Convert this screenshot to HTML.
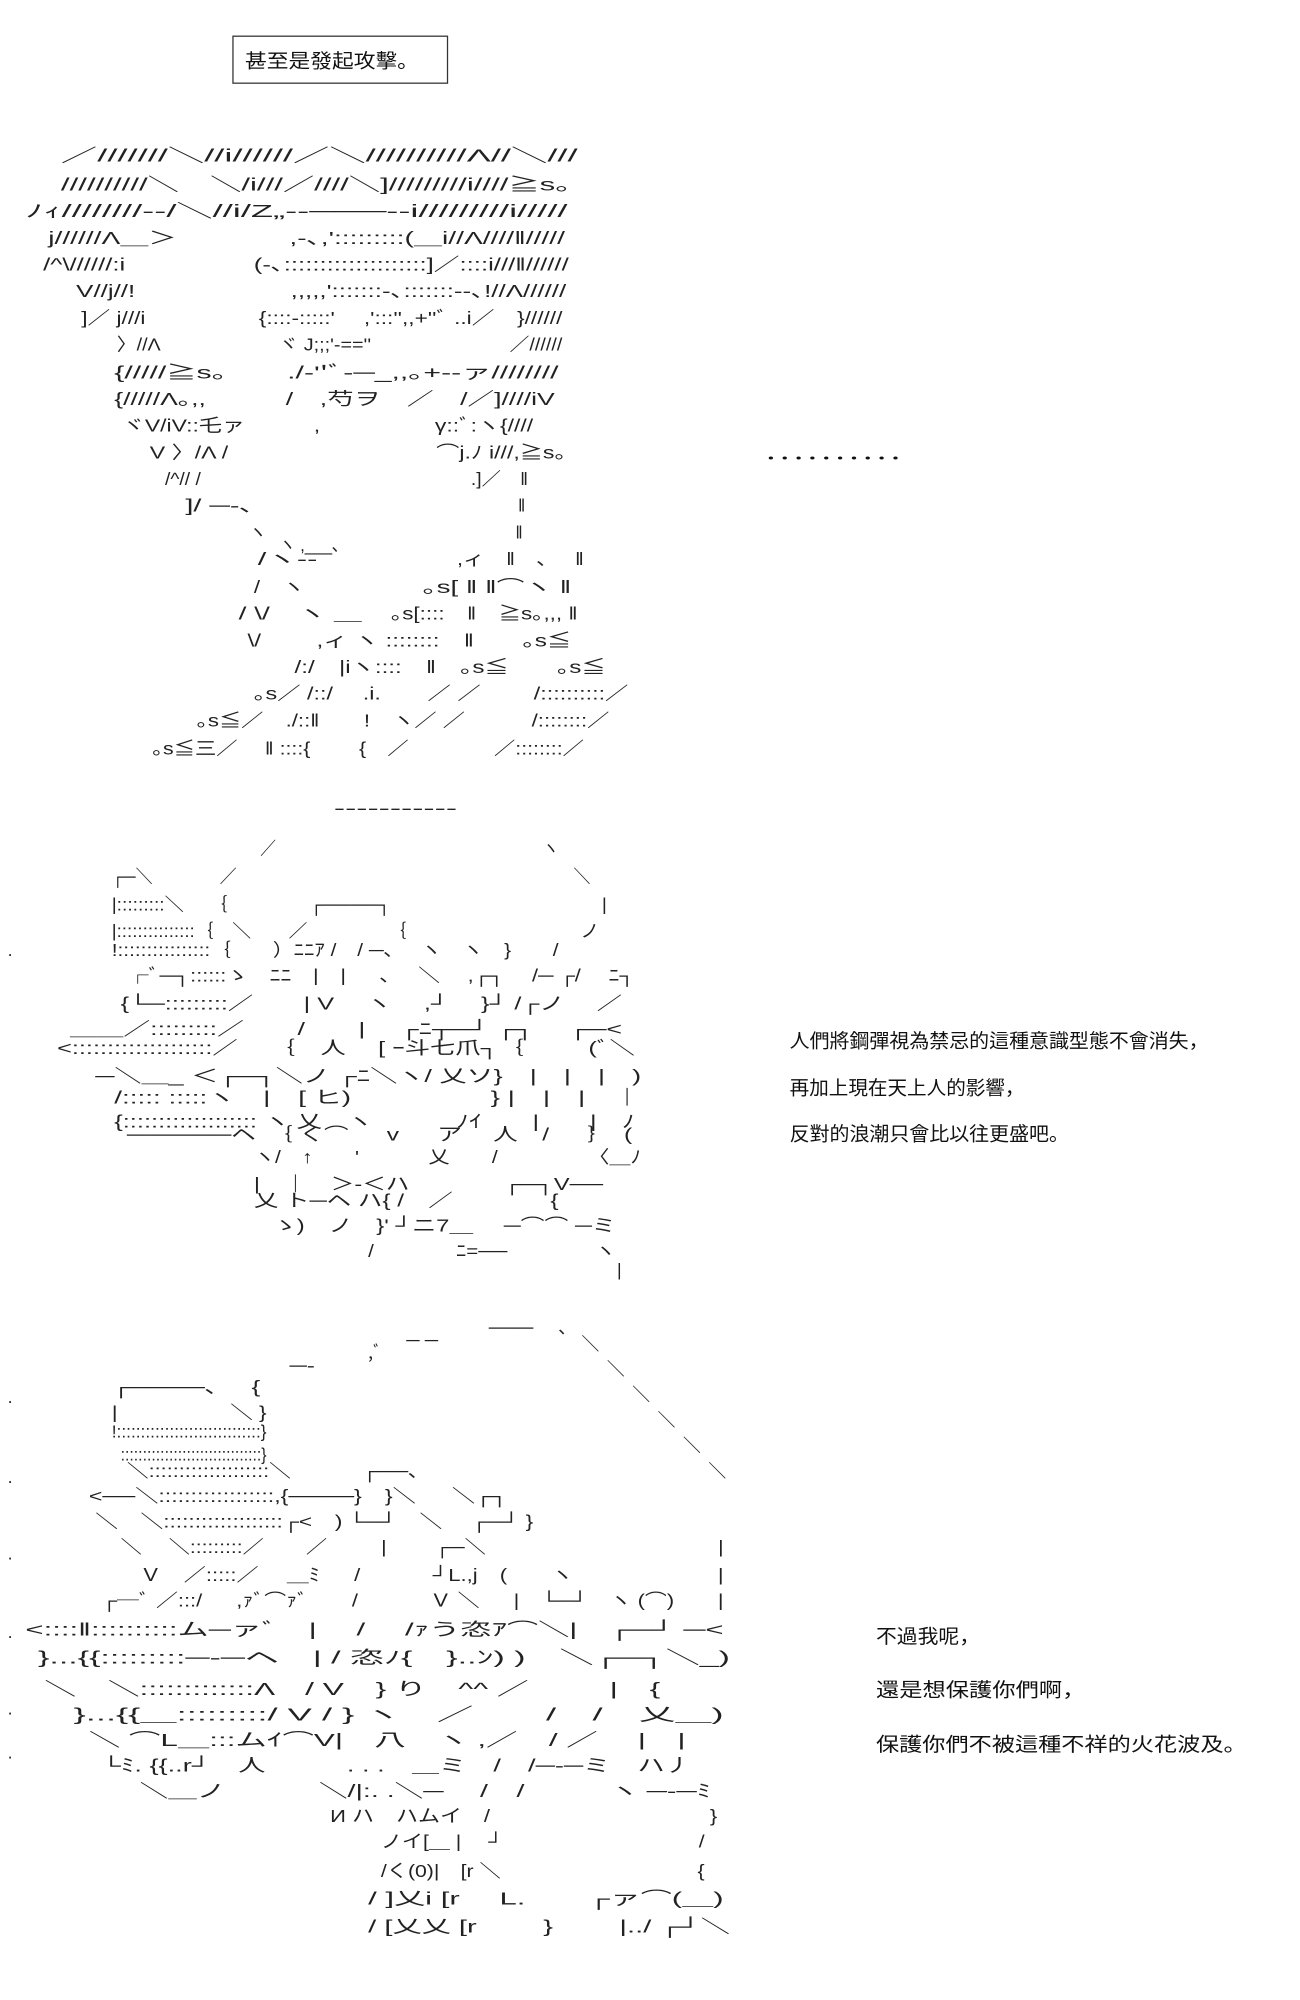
<!DOCTYPE html>
<html><head><meta charset="utf-8">
<style>
html,body{margin:0;padding:0;background:#fff;width:1300px;height:2000px;overflow:hidden}
svg{display:block}
text{font-family:"Liberation Sans","Noto Sans CJK JP",sans-serif;fill:#222;white-space:pre}
.a{font-size:14px}
.t{font-size:15px;fill:#111}
</style></head><body>
<svg width="1300" height="2000" viewBox="0 0 1024 1575" preserveAspectRatio="none" xmlns="http://www.w3.org/2000/svg">
<rect x="0" y="0" width="1024" height="1575" fill="#fff"/>
<!-- title box -->
<rect x="183.5" y="28.5" width="169" height="37" fill="none" stroke="#333" stroke-width="1"/>
<text class="t" x="193" y="53" textLength="137" lengthAdjust="spacingAndGlyphs">甚至是發起攻擊。</text>

<g class="a">
<text x="48" y="127" textLength="407" lengthAdjust="spacingAndGlyphs">／///////＼//i//////／＼//////////Λ//＼///</text>
<text x="48" y="150" textLength="414" lengthAdjust="spacingAndGlyphs">//////////＼　＼/i///／////＼]/////////i////≧s。</text>
<text x="20" y="171" textLength="427" lengthAdjust="spacingAndGlyphs">ﾉｨ////////--/＼//i/Z„--───--i/////////i/////</text>
<text x="38" y="192" textLength="407" lengthAdjust="spacingAndGlyphs">j//////Λ＿＞　　　　,-､,':::::::::(＿i//Λ////‖/////</text>
<text x="34" y="213" textLength="414" lengthAdjust="spacingAndGlyphs">/^\//////:i　　　　　(-､::::::::::::::::::::]／::::i///‖//////</text>
<text x="60" y="234" textLength="386" lengthAdjust="spacingAndGlyphs">V//j//!　　　　　　,,,,,':::::::-､:::::::--､!//Λ//////</text>
<text x="64" y="255" textLength="379" lengthAdjust="spacingAndGlyphs">]／ j///i　　　　　{::::-:::::'　 ,':::'',,+''ﾞ ..i／　}//////</text>
<text x="92" y="276" textLength="351" lengthAdjust="spacingAndGlyphs">〉//Λ　　　　　　ヾ J;;;'-==''　　　　　　　／//////</text>
<text x="90" y="298" textLength="350" lengthAdjust="spacingAndGlyphs">{/////≧s。　　./-''ﾞ-─_,,｡+--ァ////////</text>
<text x="90" y="319" textLength="347" lengthAdjust="spacingAndGlyphs">{/////Λ｡,,　　　/　,芍ヲ　／　/／]////iV</text>
<text x="96" y="340" textLength="324" lengthAdjust="spacingAndGlyphs">ヾV/iV::乇ァ　　　,　　　　　γ::ﾞ:ヽ{////</text>
<text x="118" y="361" textLength="337" lengthAdjust="spacingAndGlyphs">V 〉/Λ /　　　　　　　　　⌒j.ﾉ i///,≧s。</text>
<text x="130" y="382" textLength="286" lengthAdjust="spacingAndGlyphs">/^// /　　　　　　　　　　　　　　.]／　‖</text>
<text x="146" y="403" textLength="54" lengthAdjust="spacingAndGlyphs">]/ ─-､</text>
<text x="408" y="403">‖</text>
<text x="196" y="424">ヽ</text>
<text x="406" y="424">‖</text>
<text x="220" y="434" textLength="48" lengthAdjust="spacingAndGlyphs">ヽ ,___､</text>
<text x="203" y="445" textLength="47" lengthAdjust="spacingAndGlyphs">/ヽ--</text>
<text x="360" y="445" textLength="100" lengthAdjust="spacingAndGlyphs">,ィ　‖　､　 ‖</text>
<text x="200" y="467" textLength="40" lengthAdjust="spacingAndGlyphs">/　ヽ</text>
<text x="333" y="467" textLength="117" lengthAdjust="spacingAndGlyphs">｡s[ ‖ ‖⌒ヽ ‖</text>
<text x="188" y="488" textLength="97" lengthAdjust="spacingAndGlyphs">/ \/　ヽ ＿</text>
<text x="308" y="488" textLength="147" lengthAdjust="spacingAndGlyphs">｡s[::::　‖　≧s｡,,, ‖</text>
<text x="195" y="509" textLength="255" lengthAdjust="spacingAndGlyphs">\/　　 ,ィ ヽ ::::::::　‖　　｡s≦</text>
<text x="232" y="530" textLength="245" lengthAdjust="spacingAndGlyphs">/:/　|iヽ::::　‖　｡s≦　　｡s≦</text>
<text x="200" y="551" textLength="295" lengthAdjust="spacingAndGlyphs">｡s／ /::/　 .i.　　／ ／　　 /::::::::::／</text>
<text x="155" y="572" textLength="325" lengthAdjust="spacingAndGlyphs">｡s≦／　./::‖　　!　ヽ／ ／　　　/::::::::／</text>
<text x="120" y="594" textLength="340" lengthAdjust="spacingAndGlyphs">｡s≦三／　 ‖ ::::{　　 {　／　　　　／::::::::／</text>
</g>

<text class="t" x="602" y="362" textLength="120" lengthAdjust="spacingAndGlyphs">．．．．．．．．．．</text>

<g class="a">
<text x="263" y="641" textLength="97" lengthAdjust="spacingAndGlyphs">-----------</text>
<text x="205" y="673" textLength="235" lengthAdjust="spacingAndGlyphs">／　　　　　　　　　　　　　　　　　ヽ</text>
<text x="88" y="695" textLength="377" lengthAdjust="spacingAndGlyphs">┌─＼　　　　／　　　　　　　　　　　　　　　　　　　　＼</text>
<text x="88" y="717" textLength="390" lengthAdjust="spacingAndGlyphs">|:::::::::＼　 ｛　　　　 ┌────┐　　　　　　　　　　　|</text>
<text x="88" y="738" textLength="384" lengthAdjust="spacingAndGlyphs">|:::::::::::::::｛　＼　　／　　　　 ｛　　　　　　　　　 ノ</text>
<text x="88" y="753" textLength="352" lengthAdjust="spacingAndGlyphs">!::::::::::::::::｛　　）ﾆﾆｱ /　/ ─､ 　ヽ　ヽ　}　　/</text>
<text x="100" y="773" textLength="400" lengthAdjust="spacingAndGlyphs">┌ﾞ─┐::::::ゝ　ﾆﾆ　|　| 　 ､ 　＼　 ,┌┐　 /─ ┌/ 　ﾆ┐</text>
<text x="95" y="795" textLength="395" lengthAdjust="spacingAndGlyphs">{└─:::::::::／　　| V　 ヽ　 ,┘ 　}┘ /┌ノ　 ／</text>
<text x="55" y="815" textLength="435" lengthAdjust="spacingAndGlyphs">＿＿／:::::::::／　　/　　|　 ┌ﾆ┬─┘ ┌┐　 ┌─&lt;</text>
<text x="45" y="830" textLength="455" lengthAdjust="spacingAndGlyphs">&lt;::::::::::::::::::::／　 ｛　人　 [ ｰ斗七爪┐｛ 　　 (ﾞ＼</text>
<text x="75" y="852" textLength="430" lengthAdjust="spacingAndGlyphs">─＼＿_ ＜┌─┐＼ノ ┌ﾆ＼ヽ/ 乂ソ}　|　|　|　)</text>
<text x="90" y="869" textLength="415" lengthAdjust="spacingAndGlyphs">/::::: :::::ヽ　|　[ ヒ)　　　　　} |　|　|　｜</text>
<text x="90" y="888" textLength="410" lengthAdjust="spacingAndGlyphs">{::::::::::::::::::: ヽ 乂　ヽ　　　 ﾉｲ　　|　　|　ﾉ</text>
<text x="100" y="898" textLength="398" lengthAdjust="spacingAndGlyphs">──────ヘ　｛ く⌒ 　 v 　 ア 　人　/ 　 ｝　(</text>
<text x="200" y="916" textLength="305" lengthAdjust="spacingAndGlyphs">ヽ/　↑　　'　　　 乂　　/　　　　 〈＿ﾉ</text>
<text x="200" y="937" textLength="275" lengthAdjust="spacingAndGlyphs">|　｜　＞-＜ハ　　　　┌─┐V──</text>
<text x="200" y="950" textLength="240" lengthAdjust="spacingAndGlyphs">乂 ト─ヘ ハ{ /　／　　　　{</text>
<text x="215" y="970" textLength="270" lengthAdjust="spacingAndGlyphs">ゝ)　ノ　}' ┘ニ7＿ 　─⌒⌒ ─ミ</text>
<text x="290" y="990" textLength="195" lengthAdjust="spacingAndGlyphs">/　　　　ﾆ=── 　　　　ヽ</text>
<text x="486" y="1005">|</text>
<text x="6" y="753">.</text>
</g>

<text class="t" x="622" y="825" textLength="330" lengthAdjust="spacingAndGlyphs">人們將鋼彈視為禁忌的這種意識型態不會消失，</text>
<text class="t" x="622" y="862" textLength="185" lengthAdjust="spacingAndGlyphs">再加上現在天上人的影響，</text>
<text class="t" x="622" y="898" textLength="220" lengthAdjust="spacingAndGlyphs">反對的浪潮只會比以往更盛吧。</text>

<g class="a">
<text x="385" y="1050" textLength="35" lengthAdjust="spacingAndGlyphs">───</text>
<text x="440" y="1050">､</text>
<text x="320" y="1060" textLength="25" lengthAdjust="spacingAndGlyphs">─ ─</text>
<text x="458" y="1063">＼</text>
<text x="290" y="1070">,ﾞ</text>
<text x="228" y="1080" textLength="20" lengthAdjust="spacingAndGlyphs">─-</text>
<text x="478" y="1083">＼</text>
<text x="88" y="1097" textLength="117" lengthAdjust="spacingAndGlyphs">┌────､ 　{</text>
<text x="498" y="1103">＼</text>
<text x="88" y="1117" textLength="122" lengthAdjust="spacingAndGlyphs">|　　　　　＼ }</text>
<text x="518" y="1123">＼</text>
<text x="88" y="1132" textLength="122" lengthAdjust="spacingAndGlyphs">!::::::::::::::::::::::::::::::}</text>
<text x="538" y="1143">＼</text>
<text x="95" y="1150" textLength="115" lengthAdjust="spacingAndGlyphs">::::::::::::::::::::::::::::::::}</text>
<text x="558" y="1163">＼</text>
<text x="100" y="1163" textLength="230" lengthAdjust="spacingAndGlyphs">＼::::::::::::::::::::＼　　　 ┌──､</text>
<text x="70" y="1183" textLength="330" lengthAdjust="spacingAndGlyphs">&lt;──＼::::::::::::::::::,{────}　}＼ 　 ＼┌┐</text>
<text x="75" y="1203" textLength="345" lengthAdjust="spacingAndGlyphs">＼　＼:::::::::::::::::::┌&lt;　) └─┘　＼　 ┌─┘ }</text>
<text x="95" y="1223" textLength="475" lengthAdjust="spacingAndGlyphs">＼　 ＼:::::::::／　　／ 　　 |　　 ┌─＼　　　　　　　　　　　|</text>
<text x="110" y="1245" textLength="460" lengthAdjust="spacingAndGlyphs">Ｖ　／:::::／　 ＿ﾐ 　 /　　　 ┘L.,j　(　　ヽ 　　　　　　 |</text>
<text x="80" y="1265" textLength="490" lengthAdjust="spacingAndGlyphs">┌─ﾞ ／:::/ 　 ,ｧﾞ⌒ｧﾞ　　/　　 　Ｖ ＼ 　 |　└─┘　ヽ (⌒)　　|</text>
<text x="20" y="1288" textLength="550" lengthAdjust="spacingAndGlyphs">&lt;::::‖::::::::::ム─ァﾞ　|　 /　 /ｧう恣ｱ⌒＼|　┌─┘ ─&lt;</text>
<text x="30" y="1310" textLength="545" lengthAdjust="spacingAndGlyphs">}...{{:::::::::─-─ヘ　| / 恣ﾉ{　}..ﾝ) )　＼┌─┐＼_)</text>
<text x="35" y="1335" textLength="485" lengthAdjust="spacingAndGlyphs">＼　＼:::::::::::::Λ　/ V　} り　^^ ／　 　 |　{</text>
<text x="58" y="1355" textLength="512" lengthAdjust="spacingAndGlyphs">}...{{＿:::::::::/ V / } ヽ　／　　/　/　乂＿)</text>
<text x="70" y="1375" textLength="470" lengthAdjust="spacingAndGlyphs">＼ ⌒L＿:::ムｲ⌒V|　八　ヽ ,／　/ ／　 |　|</text>
<text x="80" y="1395" textLength="465" lengthAdjust="spacingAndGlyphs">└ﾐ. {{..r┘　人　　　. . .　＿ミ　/　/─-─ミ　ハ丿</text>
<text x="110" y="1415" textLength="450" lengthAdjust="spacingAndGlyphs">＼＿ノ　　　 ＼/|:. .＼─ 　/　/　　　ヽ ─-─ﾐ</text>
<text x="260" y="1435" textLength="305" lengthAdjust="spacingAndGlyphs">И ハ　ハムイ　/　　　　　　　　　　}</text>
<text x="300" y="1455" textLength="255" lengthAdjust="spacingAndGlyphs">ノイ[＿ |　 ┘　　　　　　　　　 /</text>
<text x="300" y="1478" textLength="255" lengthAdjust="spacingAndGlyphs">/く(0)|　[r ＼　　　　　　　　　 {</text>
<text x="290" y="1500" textLength="280" lengthAdjust="spacingAndGlyphs">/ ]乂i [r　 L.　　┌ァ⌒(＿)</text>
<text x="290" y="1522" textLength="285" lengthAdjust="spacingAndGlyphs">/ [乂乂 [r　　 }　　 |../ ┌┘＼</text>
<text x="6" y="1105">.</text>
<text x="6" y="1168">.</text>
<text x="6" y="1228">.</text>
<text x="6" y="1290">.</text>
<text x="6" y="1350">.</text>
<text x="6" y="1385">.</text>
</g>

<text class="t" x="690" y="1294" textLength="82" lengthAdjust="spacingAndGlyphs">不過我呢，</text>
<text class="t" x="690" y="1336" textLength="165" lengthAdjust="spacingAndGlyphs">還是想保護你們啊，</text>
<text class="t" x="690" y="1379" textLength="292" lengthAdjust="spacingAndGlyphs">保護你們不被這種不祥的火花波及。</text>
</svg>
</body></html>
